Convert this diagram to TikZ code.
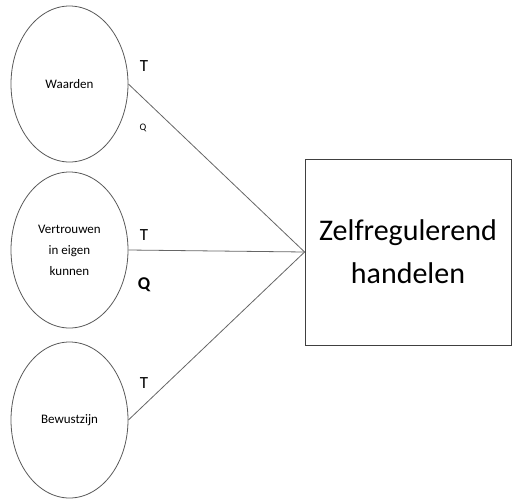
\documentclass[tikz,border=0pt]{standalone}
\usepackage{fontspec}
\setmainfont{Carlito}
\usetikzlibrary{shapes.geometric}
\begin{document}
\begin{tikzpicture}[x=1pt,y=-1pt,
  factor/.style={draw=black!65, line width=0.8pt, ellipse, minimum width=117pt, minimum height=156pt, inner sep=0pt, align=center, font=\fontsize{13}{21}\selectfont},
  target/.style={draw=black!75, line width=0.8pt, minimum width=206pt, minimum height=186pt, inner sep=0pt, align=center, font=\fontsize{30}{43}\selectfont},
  link/.style={draw=black!60, line width=0.8pt},
  lblT/.style={font=\fontsize{17}{17}\selectfont, inner sep=0pt},
  lblQs/.style={font=\fontsize{10}{10}\selectfont, inner sep=0pt},
  lblQb/.style={font=\fontsize{18}{18}\selectfont\bfseries, inner sep=0pt}]
\useasboundingbox (0,0) rectangle (512,501);
\node[factor] (w) at (69.5,84) {Waarden};
\node[factor] (v) at (69.5,250) {Vertrouwen\\in eigen\\kunnen};
\node[factor] (b) at (69.5,420) {Bewustzijn};
\node[target] (z) at (408,252) {Zelfregulerend\\handelen};
\draw[link] (w.east) -- (z.west);
\draw[link] (v.east) -- (z.west);
\draw[link] (b.east) -- (z.west);
\node[lblT] (t1) at (144,66) {T};
\node[lblQs] (q1) at (143,128) {Q};
\node[lblT] (t2) at (144,235) {T};
\node[lblQb] (q2) at (144,285) {Q};
\node[lblT] (t3) at (144,383) {T};
\end{tikzpicture}
\end{document}
